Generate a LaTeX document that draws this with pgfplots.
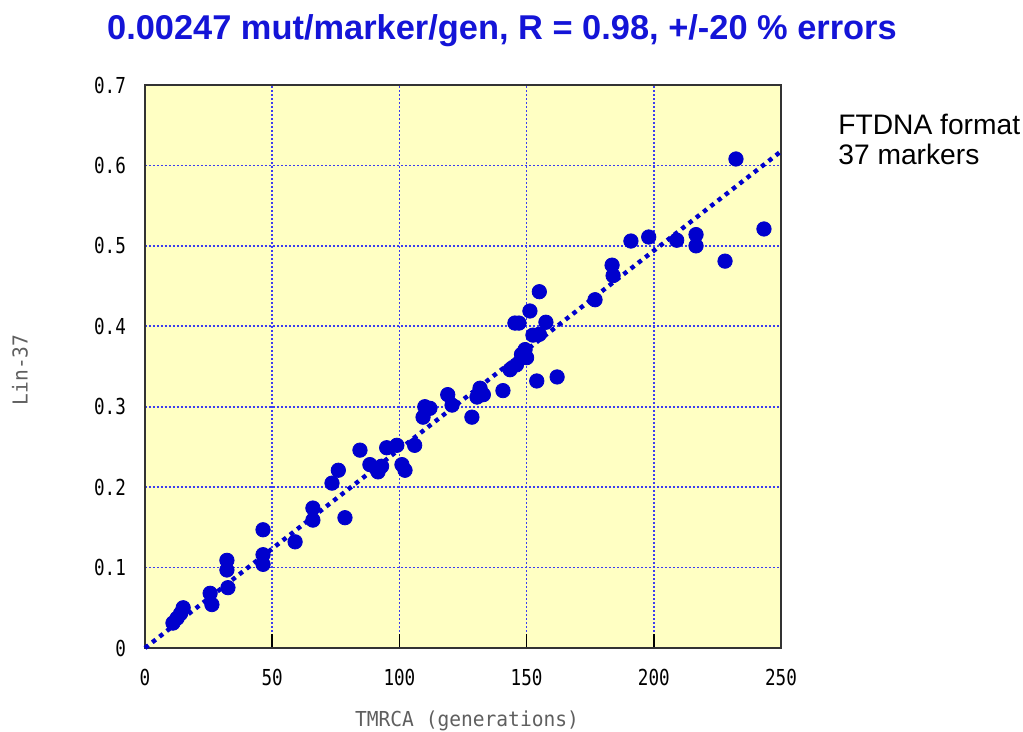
\documentclass[border=0pt]{standalone}
\usepackage{fontspec}
\setmainfont{Liberation Sans}
\newfontfamily\monof[FakeStretch=0.8]{DejaVu Sans Mono}
\newfontfamily\labf[FakeStretch=0.95]{DejaVu Sans Mono}
\usepackage{pgfplots}
\pgfplotsset{compat=1.18}
\definecolor{bg}{RGB}{255,255,195}
\definecolor{markblue}{RGB}{0,0,205}
\definecolor{titleblue}{RGB}{20,20,215}
\definecolor{gridblue}{RGB}{60,60,240}
\definecolor{labgray}{RGB}{95,95,95}
\pgfplotstableread{
x y
11 0.031
12.6 0.037
14 0.043
15 0.050
25.6 0.068
26.3 0.054
32.2 0.109
32.2 0.097
32.6 0.075
46.4 0.147
46.4 0.116
46.4 0.104
59 0.132
66 0.174
66 0.159
73.5 0.205
76 0.221
78.6 0.162
84.5 0.246
88.4 0.228
91.6 0.219
93 0.226
95 0.249
99 0.252
101 0.228
102.2 0.221
106 0.252
109.3 0.287
110 0.300
112 0.298
119 0.315
120.7 0.302
128.5 0.287
130.5 0.312
131.7 0.323
133 0.315
140.7 0.320
143.5 0.346
146 0.352
148 0.365
149.4 0.371
150 0.361
145.4 0.404
147 0.404
151.3 0.419
152.5 0.389
155 0.390
155 0.443
157.6 0.405
154 0.332
162 0.337
176.9 0.433
183.6 0.476
184 0.463
191 0.506
198 0.511
209 0.507
216.6 0.514
216.6 0.500
228 0.481
232.3 0.608
243.3 0.521
}\pts
\begin{document}
\begin{tikzpicture}
\useasboundingbox (-72.5pt,-42pt) rectangle (439pt,324pt);
\begin{axis}[
  at={(0pt,0pt)}, anchor=south west,
  scale only axis, width=318pt, height=281.5pt,
  xmin=0, xmax=250, ymin=0, ymax=0.7,
  xtick={0,50,100,150,200,250},
  ytick={0,0.1,0.2,0.3,0.4,0.5,0.6,0.7},
  yticklabels={0,0.1,0.2,0.3,0.4,0.5,0.6,0.7},
  xticklabels={0,50,100,150,200,250},
  axis background/.style={fill=bg},
  xmajorgrids=true, ymajorgrids=true,
  grid style={draw=gridblue, line width=0.8pt, dash pattern=on 0.8pt off 1.2pt},
  major grid style={draw=gridblue, line width=0.8pt, dash pattern=on 0.8pt off 1.2pt},
  axis line style={draw=black!80, line width=1pt},
  xtick pos=bottom, ytick pos=left,
  tick align=inside,
  major tick length=7pt,
  xtick style={draw=black, line width=0.8pt},
  ytick style={draw=none},
  ticklabel style={font=\monof\fontsize{11pt}{13pt}\selectfont, text=black},
  /pgf/number format/assume math mode=true,
  xticklabel style={yshift=-7pt},
  yticklabel style={xshift=-6pt},
  clip=false,
]
\addplot[markblue, line width=2.2pt, dash pattern=on 2.2pt off 2.4pt] coordinates {(0,0) (250,0.6175)};
\addplot[only marks, mark=*, mark size=3.6pt, color=markblue] table[x=x,y=y] {\pts};
\end{axis}
\node[font=\bfseries\fontsize{17.2pt}{20pt}\selectfont, text=titleblue, anchor=base] at (178.5pt,304pt) {0.00247 mut/marker/gen, R = 0.98, +/-20 \% errors};
\node[font=\fontsize{14.1pt}{16pt}\selectfont, anchor=base west, inner sep=0pt] at (346.5pt,256.5pt) {FTDNA format};
\node[font=\fontsize{14.1pt}{16pt}\selectfont, anchor=base west, inner sep=0pt] at (346.5pt,241.5pt) {37 markers};
\node[font=\labf\fontsize{10.3pt}{12pt}\selectfont, text=labgray, anchor=base] at (161pt,-39.5pt) {TMRCA (generations)};
\node[font=\labf\fontsize{10.3pt}{12pt}\selectfont, text=labgray, rotate=90] at (-62.5pt,139pt) {Lin-37};
\end{tikzpicture}
\end{document}
